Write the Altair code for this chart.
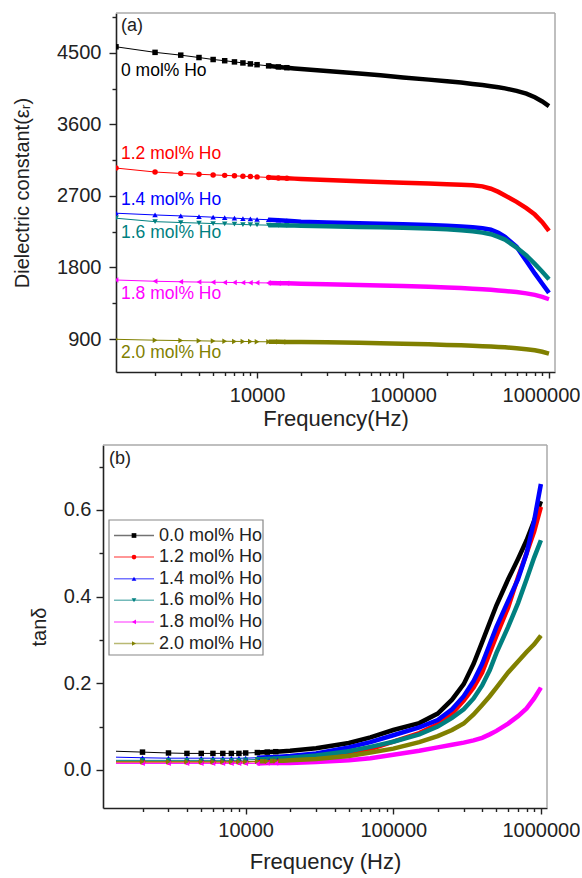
import altair as alt
import pandas as pd

# Measurement frequencies (Hz)
freq = [1080, 2000, 3000, 4000, 5000, 6000, 7000, 8000, 9000, 10000,
        12000, 14000, 16000, 18000, 20000, 30000, 50000, 70000, 100000,
        150000, 200000, 250000, 300000, 350000, 400000, 450000, 500000,
        600000, 700000, 800000, 900000, 1000000]

series_keys = ["0.0 mol% Ho", "1.2 mol% Ho", "1.4 mol% Ho",
               "1.6 mol% Ho", "1.8 mol% Ho", "2.0 mol% Ho"]
panel_a_labels = ["0 mol% Ho", "1.2 mol% Ho", "1.4 mol% Ho",
                  "1.6 mol% Ho", "1.8 mol% Ho", "2.0 mol% Ho"]
colors = ["#000000", "#ff0000", "#0000ff", "#008080", "#ff00ff", "#808000"]
shapes = ["square", "circle", "triangle-up", "triangle-down",
          "triangle-left", "triangle-right"]

# (a) dielectric constant
eps_00 = [4575, 4505, 4470, 4440, 4415, 4400, 4385, 4372, 4360, 4350, 4335, 4322,
          4312, 4303, 4295, 4270, 4240, 4218, 4190, 4162, 4142, 4125, 4108, 4094,
          4080, 4066, 4052, 4020, 3985, 3940, 3888, 3830]
eps_12 = [3050, 3000, 2982, 2972, 2964, 2958, 2952, 2947, 2943, 2939, 2932, 2926,
          2921, 2917, 2913, 2900, 2885, 2876, 2866, 2855, 2846, 2841, 2835, 2820,
          2790, 2750, 2705, 2625, 2545, 2465, 2370, 2260]
eps_14 = [2482, 2460, 2448, 2440, 2432, 2425, 2420, 2414, 2410, 2406, 2400, 2394,
          2388, 2382, 2376, 2365, 2355, 2349, 2343, 2333, 2323, 2315, 2304, 2292,
          2275, 2235, 2185, 2060, 1880, 1725, 1595, 1480]
eps_16 = [2419, 2376, 2365, 2358, 2352, 2348, 2344, 2340, 2337, 2335, 2332, 2330,
          2328, 2326, 2325, 2318, 2310, 2305, 2300, 2290, 2280, 2268, 2255, 2238,
          2218, 2185, 2150, 2050, 1950, 1845, 1745, 1651]
eps_18 = [1642, 1626, 1620, 1616, 1614, 1612, 1610, 1609, 1608, 1607, 1605, 1602,
          1600, 1598, 1596, 1590, 1580, 1574, 1567, 1556, 1548, 1540, 1532, 1525,
          1518, 1510, 1503, 1490, 1474, 1455, 1430, 1400]
eps_20 = [896, 885, 880, 877, 874, 872, 870, 869, 868, 866, 865, 864, 863, 862, 862,
          858, 852, 847, 841, 833, 826, 821, 816, 810, 805, 800, 795, 783, 770, 758,
          740, 716]

# (b) loss tangent
tan_00 = [0.044, 0.041, 0.039, 0.038, 0.038, 0.038, 0.038, 0.038, 0.038, 0.039,
          0.040, 0.041, 0.042, 0.043, 0.044, 0.050, 0.062, 0.075, 0.092, 0.108,
          0.130, 0.162, 0.198, 0.245, 0.295, 0.340, 0.380, 0.440, 0.487, 0.530,
          0.575, 0.620]
tan_12 = [0.018, 0.018, 0.018, 0.018, 0.018, 0.018, 0.018, 0.018, 0.018, 0.018,
          0.019, 0.019, 0.020, 0.020, 0.021, 0.025, 0.036, 0.048, 0.065, 0.085,
          0.105, 0.130, 0.160, 0.190, 0.225, 0.270, 0.310, 0.375, 0.445, 0.500,
          0.550, 0.607]
tan_14 = [0.030, 0.028, 0.027, 0.027, 0.027, 0.027, 0.027, 0.027, 0.027, 0.027,
          0.028, 0.029, 0.030, 0.031, 0.032, 0.038, 0.052, 0.064, 0.080, 0.098,
          0.115, 0.140, 0.170, 0.205, 0.245, 0.290, 0.330, 0.390, 0.440, 0.500,
          0.575, 0.660]
tan_16 = [0.022, 0.022, 0.022, 0.022, 0.022, 0.022, 0.022, 0.022, 0.022, 0.023,
          0.024, 0.025, 0.026, 0.027, 0.028, 0.033, 0.043, 0.053, 0.065, 0.082,
          0.100, 0.120, 0.140, 0.165, 0.195, 0.230, 0.270, 0.330, 0.385, 0.440,
          0.490, 0.530]
tan_18 = [0.015, 0.015, 0.015, 0.015, 0.015, 0.015, 0.015, 0.015, 0.015, 0.015,
          0.015, 0.016, 0.016, 0.016, 0.016, 0.018, 0.022, 0.027, 0.035, 0.044,
          0.052, 0.058, 0.063, 0.068, 0.074, 0.082, 0.090, 0.107, 0.124, 0.142,
          0.165, 0.190]
tan_20 = [0.019, 0.019, 0.019, 0.019, 0.019, 0.019, 0.019, 0.019, 0.019, 0.019,
          0.020, 0.020, 0.021, 0.021, 0.022, 0.025, 0.032, 0.040, 0.049, 0.064,
          0.078, 0.092, 0.107, 0.128, 0.150, 0.170, 0.190, 0.225, 0.250, 0.272,
          0.290, 0.310]

x_ticks = [2000, 3000, 4000, 5000, 6000, 7000, 8000, 9000, 10000,
           20000, 30000, 40000, 50000, 60000, 70000, 80000, 90000, 100000,
           200000, 300000, 400000, 500000, 600000, 700000, 800000, 900000, 1000000]
eps_ticks = [450, 900, 1350, 1800, 2250, 2700, 3150, 3600, 4050, 4500, 4950]
tan_ticks = [0.0, 0.1, 0.2, 0.3, 0.4, 0.5, 0.6, 0.7]


def long_table(columns):
    rows = []
    for key, vals in zip(series_keys, columns):
        for f, v in zip(freq, vals):
            rows.append({"freq": f, "value": v, "series": key})
    return pd.DataFrame(rows)


eps_df = long_table([eps_00, eps_12, eps_14, eps_16, eps_18, eps_20])
tan_df = long_table([tan_00, tan_12, tan_14, tan_16, tan_18, tan_20])

INK = "#222222"
FRAME = "#aaaaaa"
color_scale = alt.Scale(domain=series_keys, range=colors)
shape_scale = alt.Scale(domain=series_keys, range=shapes)
one_row = pd.DataFrame({"a": [0]})

decade_test = "indexof([10000, 100000, 1000000], datum.value) >= 0"


def x_axis(title, label_pad, title_pad, last_shift=0):
    return alt.Axis(
        values=x_ticks, title=title, titlePadding=title_pad, titleFontSize=22,
        labelExpr=f"{decade_test} ? format(datum.value, 'd') : ''",
        tickSize={"condition": {"test": decade_test, "value": 6}, "value": 3.5},
        labelOffset={"condition": {"test": "datum.value === 1000000",
                                   "value": last_shift}, "value": 0},
        labelPadding=label_pad, labelOverlap=False, labelFlush=False,
    )


def curves(df, x, y):
    base = alt.Chart(df).encode(
        x=x, y=y,
        color=alt.Color("series:N", scale=color_scale, legend=None),
    )
    thin = base.mark_line(strokeWidth=1, clip=True)
    thick = base.transform_filter(alt.datum.freq >= 11000).mark_line(
        strokeWidth=4.5, clip=True)
    marks = base.transform_filter(alt.datum.freq <= 16000).mark_point(
        filled=True, size=30, opacity=1, clip=True
    ).encode(shape=alt.Shape("series:N", scale=shape_scale, legend=None))
    return [thin, thick, marks]


# ---------- panel (a) ----------
WA, HA = 439, 359
xa = alt.X("freq:Q", scale=alt.Scale(type="log", domain=[1080, 1100000]),
           axis=x_axis("Frequency(Hz)", 7, 3, last_shift=-8))
ya = alt.Y("value:Q", scale=alt.Scale(domain=[485, 5000], nice=False, zero=False),
           axis=alt.Axis(
               values=eps_ticks, title="Dielectric constant(εᵣ)", titlePadding=24,
               labelExpr="datum.value % 900 === 0 ? format(datum.value, 'd') : ''",
               tickSize={"condition": {"test": "datum.value % 900 === 0", "value": 7},
                         "value": 4},
               labelPadding=8, labelOverlap=False, labelFlush=False))

layers_a = curves(eps_df, xa, ya)
layers_a.append(alt.Chart(one_row).mark_rule(color=FRAME, strokeWidth=1.5).encode(
    x=alt.value(0), x2=alt.value(WA), y=alt.value(0)))
layers_a.append(alt.Chart(one_row).mark_rule(color=FRAME, strokeWidth=1.5).encode(
    x=alt.value(WA), y=alt.value(0), y2=alt.value(HA)))
layers_a.append(alt.Chart(one_row).mark_text(
    text="(a)", fontSize=18, color=INK, align="left", baseline="middle"
).encode(x=alt.value(5), y=alt.value(13)))
label_y = [58, 141, 187, 220, 281, 340]
for text, col, ly in zip(panel_a_labels, colors, label_y):
    layers_a.append(alt.Chart(one_row).mark_text(
        text=text, fontSize=17.5, color=col, align="left", baseline="middle"
    ).encode(x=alt.value(5), y=alt.value(ly)))

panel_a = alt.layer(*layers_a).properties(width=WA, height=HA)

# ---------- panel (b) ----------
# plot area reaches 13 px further left than panel (a)
SHIFT = 13
WB, HB = 431, 363
xb = alt.X("freq:Q",
           scale=alt.Scale(type="log", domain=[1080, 1100000], range=[-SHIFT, WB]),
           axis=x_axis("Frequency (Hz)", 6, 11.5))
yb = alt.Y("value:Q", scale=alt.Scale(domain=[-0.088, 0.75], nice=False, zero=False),
           axis=alt.Axis(
               values=tan_ticks, title="tanδ", titlePadding=14, offset=SHIFT,
               labelExpr="round(datum.value * 10) % 2 === 0 ? format(datum.value, '.1f') : ''",
               tickSize={"condition": {"test": "round(datum.value * 10) % 2 === 0",
                                       "value": 7}, "value": 4},
               labelPadding=5, labelOverlap=False, labelFlush=False))

layers_b = curves(tan_df, xb, yb)
layers_b.append(alt.Chart(one_row).mark_rule(color=FRAME, strokeWidth=1.5).encode(
    x=alt.value(-SHIFT), x2=alt.value(WB), y=alt.value(0)))
layers_b.append(alt.Chart(one_row).mark_rule(color=FRAME, strokeWidth=1.5).encode(
    x=alt.value(WB), y=alt.value(0), y2=alt.value(HB)))
layers_b.append(alt.Chart(one_row).mark_text(
    text="(b)", fontSize=18, color=INK, align="left", baseline="middle"
).encode(x=alt.value(-7), y=alt.value(14)))

# legend box
layers_b.append(alt.Chart(one_row).mark_rect(
    fill="white", stroke="#888888", strokeWidth=1.2
).encode(x=alt.value(-7), x2=alt.value(147), y=alt.value(75), y2=alt.value(210)))
for i, (key, col, shp) in enumerate(zip(series_keys, colors, shapes)):
    ry = 90.5 + i * 21.6
    layers_b.append(alt.Chart(one_row).mark_rule(
        color=col, strokeWidth=1.5, opacity=0.55
    ).encode(x=alt.value(-2), x2=alt.value(38), y=alt.value(ry)))
    layers_b.append(alt.Chart(one_row).mark_point(
        filled=True, size=22, opacity=1, color=col, shape=shp
    ).encode(x=alt.value(18), y=alt.value(ry)))
    layers_b.append(alt.Chart(one_row).mark_text(
        text=key, fontSize=18, color=INK, align="left", baseline="middle"
    ).encode(x=alt.value(43), y=alt.value(ry)))

panel_b = alt.layer(*layers_b).properties(width=WB, height=HB)

chart = alt.vconcat(panel_a, panel_b, spacing=15).properties(
    padding={"left": 12, "top": 6, "right": 0, "bottom": 2}
).configure(
    font="Liberation Sans"
).configure_view(
    stroke=None
).configure_axis(
    grid=False, domainColor=INK, domainWidth=1.6, tickColor=INK, tickWidth=1.4,
    labelColor=INK, labelFontSize=20, labelFont="Liberation Sans",
    titleColor=INK, titleFontSize=20, titleFontWeight="normal",
    titleFont="Liberation Sans",
)

chart.save("out.html", embed_options={"renderer": "svg", "actions": False})
